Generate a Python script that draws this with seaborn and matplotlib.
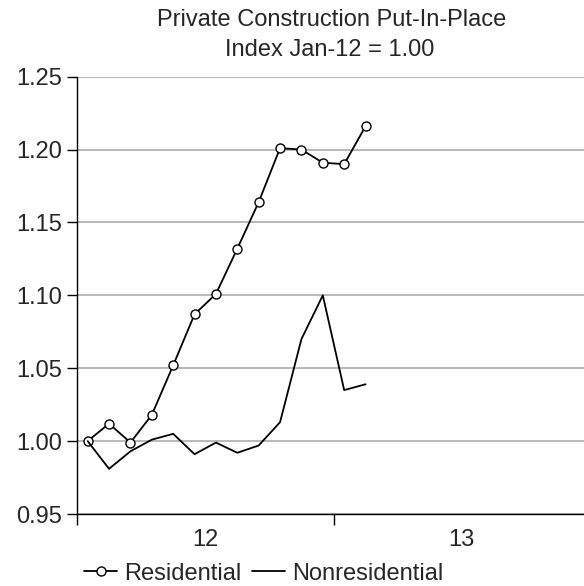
import matplotlib
matplotlib.use("Agg")
import matplotlib.pyplot as plt
import seaborn as sns
import pandas as pd
import numpy as np

# Monthly index values, Jan-12 = 1.00
months = ["Jan-12", "Feb-12", "Mar-12", "Apr-12", "May-12", "Jun-12", "Jul-12",
          "Aug-12", "Sep-12", "Oct-12", "Nov-12", "Dec-12", "Jan-13", "Feb-13"]
residential = [1.000, 1.012, 0.999, 1.018, 1.052, 1.087, 1.101,
               1.132, 1.164, 1.201, 1.200, 1.191, 1.190, 1.216]
nonresidential = [1.000, 0.981, 0.993, 1.001, 1.005, 0.991, 0.999,
                  0.992, 0.997, 1.013, 1.070, 1.100, 1.035, 1.039]
year_labels = ["12", "13"]

sns.set_theme(style="white")
plt.rcParams["font.family"] = ["Liberation Sans", "DejaVu Sans"]
FS = 17

# each month sits in the middle of its slot on the category axis
pos = np.arange(len(months)) + 0.5
df = pd.DataFrame({
    "pos": np.concatenate([pos, pos]),
    "value": residential + nonresidential,
    "series": ["Residential"] * len(months) + ["Nonresidential"] * len(months),
})

fig = plt.figure(figsize=(5.84, 5.86), dpi=100)
ax = fig.add_axes([77 / 584, 72 / 586, 513 / 584, 437.3 / 586])

sns.lineplot(data=df[df.series == "Residential"], x="pos", y="value", ax=ax,
             color="black", lw=1.3, marker="o", markersize=6.5,
             markerfacecolor="white", markeredgecolor="black",
             markeredgewidth=1.0, label="Residential")
sns.lineplot(data=df[df.series == "Nonresidential"], x="pos", y="value", ax=ax,
             color="black", lw=1.3, label="Nonresidential")

ax.set_xlim(0, 24)
ax.set_ylim(0.95, 1.25)
yt = np.arange(0.95, 1.2501, 0.05)
ax.set_yticks(yt)
ax.set_yticklabels([f"{v:.2f}" for v in yt])
ax.yaxis.grid(True, color="#a6a6a6", lw=1.1)
ax.set_axisbelow(True)

# year boundaries as major ticks, year names centred between them
ax.set_xticks([0, 12, 24])
ax.set_xticklabels([])
ax.set_xticks([6, 18], minor=True)
ax.set_xticklabels(year_labels, minor=True)
ax.tick_params(axis="x", which="minor", length=0, pad=11, labelsize=FS)
ax.tick_params(axis="x", which="major", direction="out", length=8,
               width=1.0, color="black", bottom=True)
ax.tick_params(axis="y", direction="out", length=7, width=1.0,
               color="black", left=True, labelsize=FS, pad=4)

for side in ["top", "right"]:
    ax.spines[side].set_visible(False)
for side in ["left", "bottom"]:
    ax.spines[side].set_color("black")
    ax.spines[side].set_linewidth(1.0)

ax.set_xlabel("")
ax.set_ylabel("")

fig.text(332 / 584, 1 - 20.5 / 586, "Private Construction Put-In-Place",
         ha="center", va="center", fontsize=FS)
fig.text(330 / 584, 1 - 50.5 / 586, "Index Jan-12 = 1.00",
         ha="center", va="center", fontsize=FS)

handles, labels = ax.get_legend_handles_labels()
if ax.get_legend():
    ax.get_legend().remove()
fig.legend(handles, labels, loc="center left", bbox_to_anchor=(84 / 584, 1 - 573.5 / 586),
           ncol=2, frameon=False, fontsize=FS, handlelength=1.4,
           handletextpad=0.3, columnspacing=0.45, borderaxespad=0, borderpad=0)

fig.savefig("out.png", dpi=100)
